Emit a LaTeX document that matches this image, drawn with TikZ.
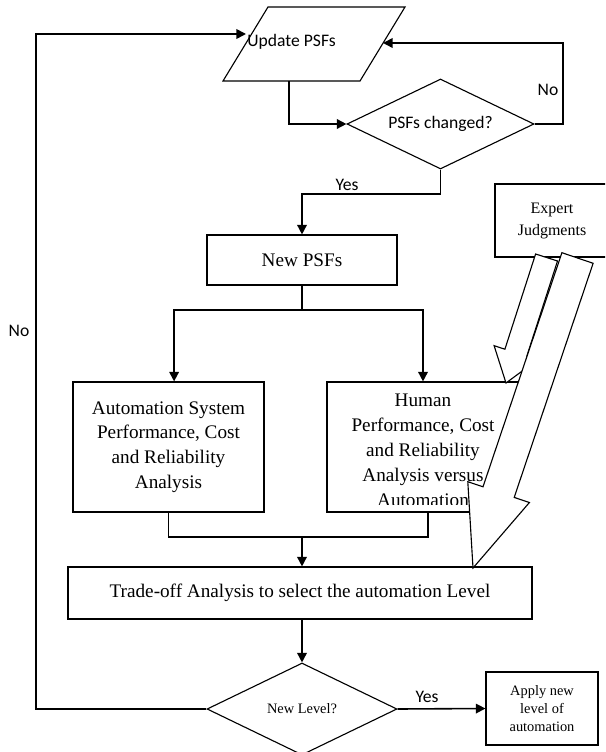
\documentclass[tikz,border=0pt]{standalone}
\usepackage{fontspec}
\setmainfont{Liberation Serif}
\newfontfamily\calib{Carlito}
\usetikzlibrary{shapes.geometric, arrows.meta}

\begin{document}
\begin{tikzpicture}[x=0.625pt, y=-0.625pt,
        txt/.style={inner sep=0pt, align=center, font=\fontsize{12}{15.5}\selectfont},
        box/.style={txt, rectangle, draw, line width=0.7pt, fill=white},
        decision/.style={diamond, draw, line width=0.7pt, inner sep=0pt, aspect=2.08},
        flow/.style={line width=1pt, -{Triangle[length=6pt, width=6pt]}},
        link/.style={line width=1pt},
        lbl/.style={inner sep=0pt, font=\calib\fontsize{11}{13}\selectfont},
        block/.style={draw, line width=0.7pt, fill=white, line join=miter}]
        \useasboundingbox (0,0) rectangle (605,752);
        \clip (0,0) rectangle (605,752);

        % update PSFs (parallelogram)
        \draw[line width=0.7pt] (268,7) -- (405,7) -- (360,81) -- (223,81) -- cycle;
        \node[lbl] at (291.5,42) (upd) {Update PSFs};
        \coordinate (updL) at (246,34);
        \coordinate (updR) at (383,43);
        \coordinate (updB) at (289,81);

        \node[decision, minimum width=116.9pt, minimum height=56.25pt, font=\calib\fontsize{11}{13}\selectfont] at (440.5,124) (chg) {PSFs changed?};

        \node[box, minimum width=118.75pt, minimum height=31.25pt] at (302,260) (new) {New PSFs};
        \node[box, minimum width=71.25pt, minimum height=45.6pt, font=\fontsize{10}{13.75}\selectfont] at (552,220.5) (exp) {Expert\\Judgments};

        \node[box, minimum width=119.4pt, minimum height=81.25pt] at (168.5,447) (auto) {Automation System\\Performance, Cost\\and Reliability\\Analysis};
        \node[box, minimum width=120pt, minimum height=81.25pt] at (423,447) (hum) {};
        % hide the right edge of the human box under the arrows
        \fill[white] ([xshift=-10pt, yshift=-1pt]hum.north east) rectangle ([xshift=1pt]hum.south east);

        \node[box, minimum width=290pt, minimum height=32.5pt] at (300,593) (trd) {Trade-off Analysis to select the automation Level};
        \node[decision, minimum width=118.75pt, minimum height=57.5pt, font=\fontsize{9}{11}\selectfont] at (302,709) (lvl) {New Level?};
        \node[box, minimum width=70pt, minimum height=45.6pt, font=\fontsize{9}{11.25}\selectfont] at (542,708.5) (app) {Apply new\\level of\\automation};

        \coordinate (split) at (302,310);
        \coordinate (merge) at (302,537);

        \draw[flow] (lvl.west) -| (36,34) -- (updL);
        \draw[flow] (updB) |- (chg.west);
        \draw[flow] (chg.east) -- (563,124) |- (updR);
        \draw[flow] (chg.south) |- (302,194) -- (new.north);
        \draw[link] (new.south) -- (split);
        \draw[flow] (split) -| ([xshift=3.5pt]auto.north);
        \draw[flow] (split) -| (hum.north);
        \draw[link] (auto.south) |- (merge);
        \draw[link] ([xshift=3pt]hum.south) |- (merge);
        \draw[flow] (merge) -- (merge |- trd.north);
        \draw[flow] (lvl.north |- trd.south) -- (lvl.north);
        \draw[flow] (lvl.east) -- (app.west);

        \node[lbl] at (548,90) {No};
        \node[lbl] at (347,185) {Yes};
        \node[lbl] at (19,331) {No};
        \node[lbl] at (427,697) {Yes};

        % expert judgments arrows
        \filldraw[block] (535.6,254.0) -- (504.9,349.2) -- (494.1,345.7) -- (506,383) -- (537.5,359.7) -- (526.8,356.2) -- (557.5,261.0) -- cycle;
        \filldraw[block] (561.9,252.7) -- (483.0,486.8) -- (467.8,481.7) -- (473,568) -- (529.4,502.5) -- (514.2,497.4) -- (593.1,263.3) -- cycle;

        \begin{scope}
            \clip (hum.north west) rectangle ([yshift=5pt]hum.south east);
            \node[txt, anchor=north] at (423,394) (humtxt) {Human\\Performance, Cost\\and Reliability\\Analysis versus\\Automation};
        \end{scope}
\end{tikzpicture}
\end{document}
